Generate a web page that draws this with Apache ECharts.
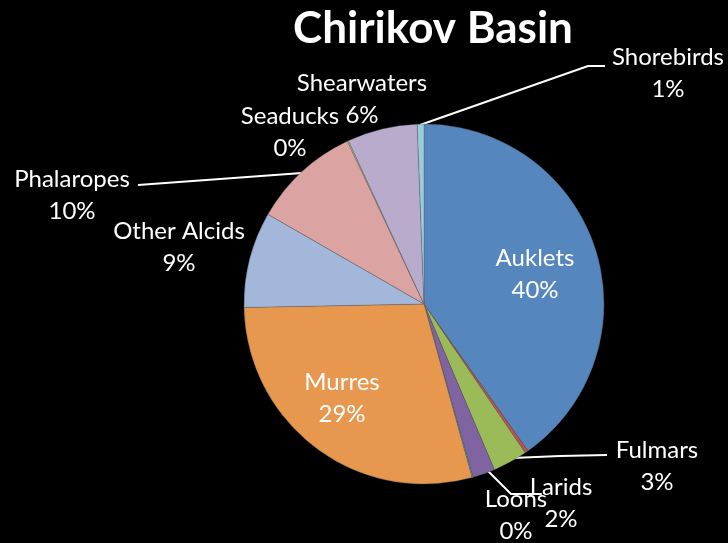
<!DOCTYPE html>
<html>
<head>
<meta charset="utf-8">
<script src="https://cdn.jsdelivr.net/npm/echarts@6/dist/echarts.min.js"></script>
<style>
html,body{margin:0;padding:0;background:#000;}
#c{width:728px;height:543px;}
</style>
</head>
<body>
<div id="c"></div>
<script>
// Data (percent of birds, Chirikov Basin)
const categories = ['Auklets','Cormorants','Fulmars','Larids','Loons','Murres','Other Alcids','Phalaropes','Seaducks','Shearwaters','Shorebirds'];
const values = [40.2, 0.3, 3.1, 2.0, 0.1, 29.0, 8.6, 9.7, 0.1, 6.3, 0.6];
const colors = ['#5586BE','#C0504D','#9BBB59','#8064A2','#4BACC6','#E8974E','#A2B7DA','#DBA3A1','#C3D69B','#B8ABCC','#9ACCDD'];
const hiddenLabels = ['Cormorants'];
const withLines = ['Phalaropes','Shorebirds','Fulmars','Larids'];

// label placement (layout, not data)
const labelPos = {
  'Auklets':[535,274], 'Murres':[342,398], 'Other Alcids':[179,247],
  'Phalaropes':[72,195], 'Seaducks':[290,132], 'Shearwaters':[362,99],
  'Shorebirds':[668,73], 'Fulmars':[657,466], 'Larids':[561,503], 'Loons':[516,515],
  'Cormorants':[530,450]
};
const linePts = {
  'Phalaropes':[[302,173],[220,179],[138,185]],
  'Shorebirds':[[420,125],[588,66],[605,66]],
  'Fulmars':[[512,458],[560,456],[607,455]],
  'Larids':[[487,470],[511,494],[540,494]]
};

const chart = echarts.init(document.getElementById('c'));
const data = categories.map((n,i)=>({
  name:n, value:values[i],
  itemStyle:{color:colors[i]},
  label:{show: hiddenLabels.indexOf(n)<0},
  labelLine:{show: withLines.indexOf(n)>=0}
}));
chart.setOption({
  backgroundColor:'#000',
  animation:false,
  title:{text:'Chirikov Basin', left:428, top:2, textAlign:'center',
    textStyle:{color:'#fff', fontFamily:'Lato', fontWeight:'bold', fontSize:44}},
  series:[{
    type:'pie',
    center:[424,304],
    radius:180,
    startAngle:90,
    clockwise:true,
    avoidLabelOverlap:false,
    minShowLabelAngle:0,
    data:data,
    itemStyle:{borderColor:'rgba(90,90,90,0.6)', borderWidth:0.6},
    label:{
      position:'outside',
      color:'#fff', fontFamily:'Lato', fontSize:24, lineHeight:32,
      align:'center',
      formatter:p=>p.name+'\n'+Math.round(p.percent)+'%'
    },
    labelLine:{lineStyle:{color:'#fff', width:2}, length:10, length2:10},
    emphasis:{disabled:true}
  }],
});
chart.setOption({
  series:[{
    labelLayout:function(params){
      const n = categories[params.dataIndex];
      const p = labelPos[n];
      const r = {x:p[0], y:p[1], align:'center', verticalAlign:'middle'};
      if (linePts[n]) r.labelLinePoints = linePts[n];
      return r;
    }
  }]
});
</script>
</body>
</html>
